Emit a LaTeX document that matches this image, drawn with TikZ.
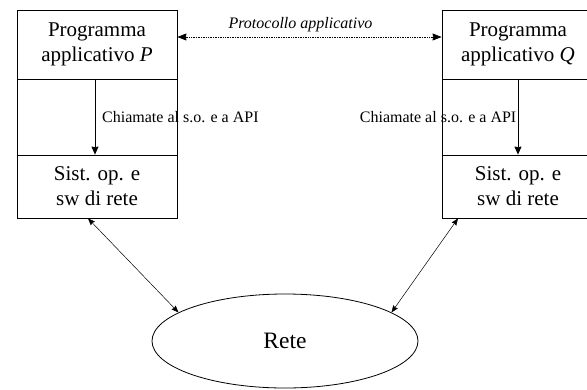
\documentclass[tikz,border=0pt]{standalone}
\usepackage{fontspec}
\setmainfont{Liberation Serif}
\usetikzlibrary{shapes.geometric,arrows.meta}
\begin{document}
\begin{tikzpicture}[x=1pt,y=-1pt,
  part/.style={draw,line width=0.8pt,rectangle,inner sep=0pt,align=center,
    font=\fontsize{21}{25}\selectfont},
  call/.style={-{Stealth[length=8pt,width=7pt,inset=0.5pt]},line width=0.7pt},
  link/.style={{Stealth[length=7pt,width=5.5pt,inset=0.8pt]}-{Stealth[length=7pt,width=5.5pt,inset=0.8pt]},line width=0.5pt},
  proto/.style={{Stealth[length=9pt,width=7pt,inset=0.5pt]}-{Stealth[length=9pt,width=7pt,inset=0.5pt]},
    line width=0.7pt,dash pattern=on 0.8pt off 0.9pt},
  small/.style={font=\fontsize{16}{19}\selectfont,inner sep=0pt}]
\clip (0,0) rectangle (587,389);
\fill[white] (0,0) rectangle (587,389);
% host P
\node[part,minimum width=160pt,minimum height=69pt] (appP) at (97,44.5) {Programma\\applicativo \textit{P}};
\node[part,minimum width=160pt,minimum height=76pt] (midP) at (97,117) {};
\node[part,minimum width=160pt,minimum height=63pt] (osP) at (97,186.5) {Sist. op. e\\sw di rete};
% host Q
\node[part,minimum width=152pt,minimum height=69pt] (appQ) at (518,44.5) {Programma\\applicativo \textit{Q}};
\node[part,minimum width=152pt,minimum height=76pt] (midQ) at (518,117) {};
\node[part,minimum width=152pt,minimum height=63pt] (osQ) at (518,186.5) {Sist. op. e\\sw di rete};
% calls down the stack
\draw[call] ([xshift=-2pt]appP.south) -- ([xshift=-2pt]osP.north);
\draw[call] (appQ.south) -- (osQ.north);
\node[small,anchor=west] (callP) at (102,117) {Chiamate al s.o. e a API};
\node[small,anchor=east] (callQ) at (516.5,117) {Chiamate al s.o. e a API};
% application protocol
\draw[proto] ([yshift=7.5pt]appP.east) -- ([yshift=7.5pt]appQ.west);
\node[small,font=\fontsize{16}{19}\selectfont\itshape] (protoLabel) at (300.5,25) {Protocollo applicativo};
% network
\node[draw,ellipse,line width=0.8pt,minimum width=266pt,minimum height=94pt,inner sep=0pt,
  font=\fontsize{23.5}{28}\selectfont] (rete) at (285,341) {Rete};
\draw[link] ([xshift=-9pt]osP.south) -- (rete.165);
\draw[link] ([xshift=-60pt]osQ.south) -- (rete.15);
\end{tikzpicture}
\end{document}
